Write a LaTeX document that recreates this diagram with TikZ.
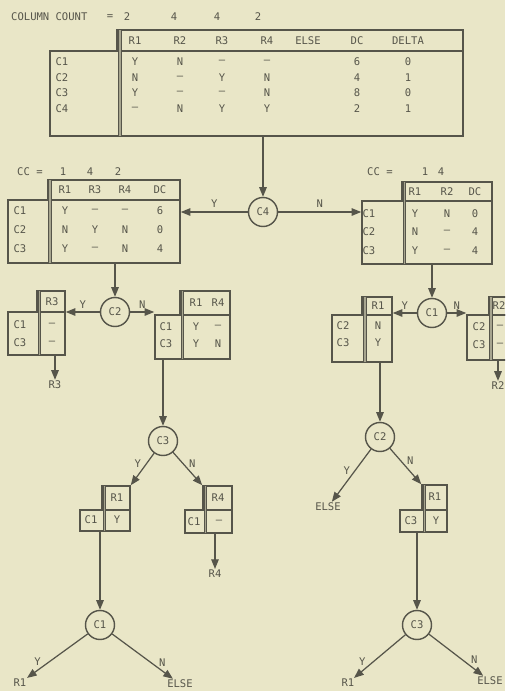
\documentclass[tikz,border=0pt]{standalone}
\usepackage{fontspec}
\newfontfamily\typefont{DejaVu Sans Mono}
\usepackage{tikz}
\usetikzlibrary{arrows.meta,positioning,fit}
\definecolor{paper}{HTML}{E9E6C7}
\definecolor{ink}{HTML}{56554A}

\begin{document}
\begin{tikzpicture}[
  x=0.02cm, y=-0.02cm,
  txt/.style={text=ink, font=\typefont\fontsize{6}{7}\selectfont, inner sep=0.5pt},
  frame/.style={draw=ink, line width=0.9pt, inner sep=0pt},
  sep/.style={draw=ink, line width=0.6pt, double=ink!45!paper, double distance=0.9pt},
  cond/.style={draw=ink, circle, line width=0.8pt, minimum size=0.58cm, inner sep=0pt, text=ink, font=\typefont\fontsize{6}{7}\selectfont},
  flow/.style={-{Triangle[length=5.5pt,width=4.3pt]}, draw=ink, line width=0.7pt}
]
\useasboundingbox[fill=paper] (0,0) rectangle (505,691);
\clip (0,0) rectangle (505,691);

% full decision table
\node[txt, anchor=west] (colcount) at (10,17) {COLUMN COUNT};
\node[txt] (eq0) at (110,17) {=};
\foreach \x/\n [count=\j] in {127/2, 174/4, 217/4, 258/2}
  \node[txt] (cnt\j) at (\x,17) {\n};
\node[frame, fit={(117,30) (463,51)}] (t0head) {};
\node[frame, fit={(50,51) (463,136)}] (t0body) {};
\draw[sep] (120,30) -- (120,136);
\foreach \x/\h [count=\j] in {135/R1, 180/R2, 222/R3, 267/R4, 308/ELSE, 357/DC, 408/DELTA}
  \node[txt] (t0h\j) at (\x,41) {\h};
\foreach \y/\r/\va/\vb/\vc/\vd/\ve/\vf in {62/C1/Y/N/–/–/6/0, 78/C2/N/–/Y/N/4/1, 93/C3/Y/–/–/N/8/0, 109/C4/–/N/Y/Y/2/1}{
  \node[txt] (t0\r) at (62,\y) {\r};
  \foreach \x/\v [count=\j] in {135/\va, 180/\vb, 222/\vc, 267/\vd, 357/\ve, 408/\vf}
    \node[txt] (t0\r-\j) at (\x,\y) {\v};
}

% C4 = Y
\node[txt, anchor=west] (cc1) at (16,172) {CC =};
\foreach \x/\n [count=\j] in {63/1, 90/4, 118/2}
  \node[txt] (cc1n\j) at (\x,172) {\n};
\node[frame, fit={(48,180) (180,200)}] (t1head) {};
\node[frame, fit={(8,200) (180,263)}] (t1body) {};
\draw[sep] (50,180) -- (50,263);
\foreach \x/\h [count=\j] in {65/R1, 95/R3, 125/R4, 160/DC}
  \node[txt] (t1h\j) at (\x,190) {\h};
\foreach \y/\r/\va/\vb/\vc/\vd in {211/C1/Y/–/–/6, 230/C2/N/Y/N/0, 249/C3/Y/–/N/4}{
  \node[txt] (t1\r) at (20,\y) {\r};
  \foreach \x/\v [count=\j] in {65/\va, 95/\vb, 125/\vc, 160/\vd}
    \node[txt] (t1\r-\j) at (\x,\y) {\v};
}

% C4 = N
\node[txt, anchor=west] (cc2) at (366,172) {CC =};
\foreach \x/\n [count=\j] in {425/1, 441/4}
  \node[txt] (cc2n\j) at (\x,172) {\n};
\node[frame, fit={(402,182) (492,201)}] (t2head) {};
\node[frame, fit={(362,201) (492,264)}] (t2body) {};
\draw[sep] (404.5,182) -- (404.5,264);
\foreach \x/\h [count=\j] in {415/R1, 447/R2, 475/DC}
  \node[txt] (t2h\j) at (\x,192) {\h};
\foreach \y/\r/\va/\vb/\vc in {214/C1/Y/N/0, 232/C2/N/–/4, 251/C3/Y/–/4}{
  \node[txt] (t2\r) at (369,\y) {\r};
  \foreach \x/\v [count=\j] in {415/\va, 447/\vb, 475/\vc}
    \node[txt] (t2\r-\j) at (\x,\y) {\v};
}

% condition nodes
\node[cond] (c4) at (263,212) {C4};
\node[cond] (c2l) at (115,312) {C2};
\node[cond] (c3l) at (163,441) {C3};
\node[cond] (c1l) at (100,625) {C1};
\node[cond] (c1r) at (432,313) {C1};
\node[cond] (c2r) at (380,437) {C2};
\node[cond] (c3r) at (417,625) {C3};

% small tables
\node[frame, fit={(37,291) (65,312)}] (b1head) {};
\node[frame, fit={(8,312) (65,355)}] (b1body) {};
\draw[sep] (39.5,291) -- (39.5,355);
\node[txt] (b1h) at (52,302) {R3};
\node[txt] (b1C1) at (20,325) {C1};
\node[txt] (b1C1v) at (52,325) {–};
\node[txt] (b1C3) at (20,343) {C3};
\node[txt] (b1C3v) at (52,343) {–};

\node[frame, fit={(180,291) (230,315)}] (b2head) {};
\node[frame, fit={(155,315) (230,359)}] (b2body) {};
\draw[sep] (182.5,291) -- (182.5,359);
\node[txt] (b2h1) at (196,303) {R1};
\node[txt] (b2h2) at (218,303) {R4};
\node[txt] (b2C1) at (166,327) {C1};
\node[txt] (b2C1a) at (196,327) {Y};
\node[txt] (b2C1b) at (218,327) {–};
\node[txt] (b2C3) at (166,344) {C3};
\node[txt] (b2C3a) at (196,344) {Y};
\node[txt] (b2C3b) at (218,344) {N};

\node[frame, fit={(102,486) (130,510)}] (b3head) {};
\node[frame, fit={(80,510) (130,531)}] (b3body) {};
\draw[sep] (104.5,486) -- (104.5,531);
\node[txt] (b3h) at (117,498) {R1};
\node[txt] (b3C1) at (91,520) {C1};
\node[txt] (b3C1v) at (117,520) {Y};

\node[frame, fit={(203,486) (232,510)}] (b4head) {};
\node[frame, fit={(185,510) (232,533)}] (b4body) {};
\draw[sep] (205.5,486) -- (205.5,533);
\node[txt] (b4h) at (218,498) {R4};
\node[txt] (b4C1) at (194,522) {C1};
\node[txt] (b4C1v) at (219,522) {–};

\node[frame, fit={(362,297) (392,315)}] (b5head) {};
\node[frame, fit={(332,315) (392,362)}] (b5body) {};
\draw[sep] (365,297) -- (365,362);
\node[txt] (b5h) at (378,306) {R1};
\node[txt] (b5C2) at (343,326) {C2};
\node[txt] (b5C2v) at (378,326) {N};
\node[txt] (b5C3) at (343,343) {C3};
\node[txt] (b5C3v) at (378,343) {Y};

\node[frame, fit={(489,297) (540,315)}] (b6head) {};
\node[frame, fit={(467,315) (540,360)}] (b6body) {};
\draw[sep] (491,297) -- (491,360);
\node[txt] (b6h) at (499,306) {R2};
\node[txt] (b6C2) at (479,327) {C2};
\node[txt] (b6C2v) at (500,327) {–};
\node[txt] (b6C3) at (479,345) {C3};
\node[txt] (b6C3v) at (500,345) {–};

\node[frame, fit={(422,485) (447,510)}] (b7head) {};
\node[frame, fit={(400,510) (447,532)}] (b7body) {};
\draw[sep] (424.5,485) -- (424.5,532);
\node[txt] (b7h) at (435,497) {R1};
\node[txt] (b7C3) at (411,521) {C3};
\node[txt] (b7C3v) at (436,521) {Y};

% outcomes
\node[txt] (o1) at (55,385) {R3};
\node[txt] (o2) at (215,574) {R4};
\node[txt] (o3) at (498,386) {R2};
\node[txt] (e1) at (20,683) {R1};
\node[txt] (e2) at (180,684) {ELSE};
\node[txt] (e3) at (328,507) {ELSE};
\node[txt] (e4) at (348,683) {R1};
\node[txt] (e5) at (490,681) {ELSE};

% connectors
\draw[flow] (t0body.south -| c4) -- (c4);
\draw[flow] (c4) -- (c4 -| t1body.east) node[txt, midway, above=2pt] (y4) {Y};
\draw[flow] (c4) -- (c4 -| t2body.west) node[txt, midway, above=2pt] (n4) {N};

\draw[flow] (t1body.south -| c2l) -- (c2l);
\draw[flow] (c2l) -- (c2l -| b1body.east) node[txt, midway, above=1pt] (y2l) {Y};
\draw[flow] (c2l) -- (c2l -| b2body.west) node[txt, midway, above=1pt] (n2l) {N};
\draw[flow] (b1body.south -| o1) -- (o1);
\draw[flow] (b2body.south -| c3l) -- (c3l);
\draw[flow] (c3l) -- (b3head.north east) node[txt, midway, above left] (y3l) {Y};
\draw[flow] (c3l) -- (b4head.north west) node[txt, midway, above right] (n3l) {N};
\draw[flow] (b4body.south -| o2) -- (o2);
\draw[flow] (b3body.south -| c1l) -- (c1l);
\draw[flow] (c1l) -- (e1) node[txt, pos=0.75, above left] (y1l) {Y};
\draw[flow] (c1l) -- (e2) node[txt, pos=0.75, above right] (n1l) {N};

\draw[flow] (t2body.south -| c1r) -- (c1r);
\draw[flow] (c1r) -- (c1r -| b5body.east) node[txt, midway, above=1pt] (y1r) {Y};
\draw[flow] (c1r) -- (c1r -| b6body.west) node[txt, midway, above=1pt] (n1r) {N};
\draw[flow] (b6body.south -| o3) -- (o3);
\draw[flow] (b5body.south -| c2r) -- (c2r);
\draw[flow] (c2r) -- (e3) node[txt, midway, above left] (y2r) {Y};
\draw[flow] (c2r) -- (b7head.north west) node[txt, midway, above right] (n2r) {N};
\draw[flow] (b7body.south -| c3r) -- (c3r);
\draw[flow] (c3r) -- (e4) node[txt, pos=0.75, above left] (y3r) {Y};
\draw[flow] (c3r) -- (e5) node[txt, pos=0.75, above right] (n3r) {N};
\end{tikzpicture}
\end{document}
